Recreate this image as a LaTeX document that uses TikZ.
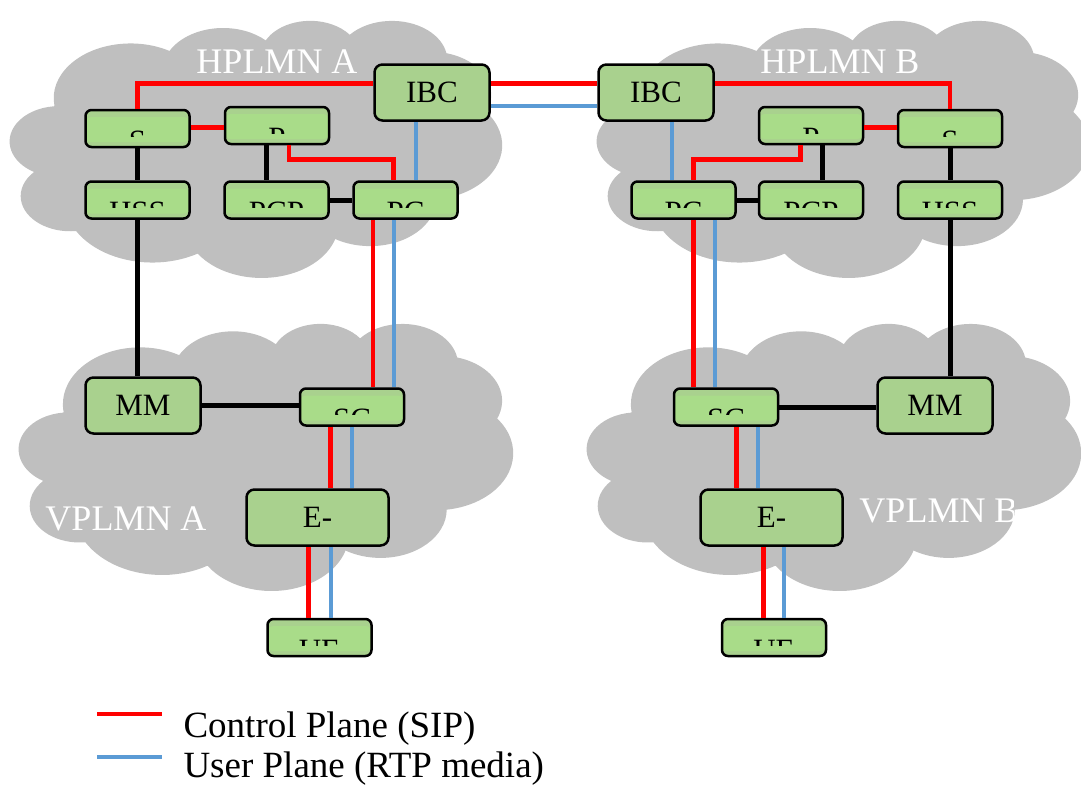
\documentclass[tikz,border=0pt]{standalone}
\usepackage{fontspec}
\setmainfont{Liberation Serif}

\definecolor{cloudgray}{HTML}{BFBFBF}
\definecolor{boxgreen}{HTML}{A9D18E}
\definecolor{boxlight}{HTML}{A9DC89}
\definecolor{sipred}{HTML}{FF0000}
\definecolor{rtpblue}{HTML}{5B9BD5}

\newcommand\boxfont{\fontsize{31}{36}\selectfont}

% one lobe of the cloud, visual angles turned into ellipse angles
\newcommand\cldarc[4]{arc[start angle={atan2(#1*sin(#3),#2*cos(#3))},
  delta angle={mod(atan2(#1*sin(#3+#4),#2*cos(#3+#4))-atan2(#1*sin(#3),#2*cos(#3))+720,360)},
  x radius=#1, y radius=#2]}

% cloud with top left corner (#1,#2), width #3, height #4
\newcommand\netcloud[4]{%
  \pgfmathsetmacro\cldw{#3/43.2}\pgfmathsetmacro\cldh{#4/43.2}%
  \fill[cloudgray, shift={(#1,#2)}, x=\cldw pt, y=-\cldh pt] (3.9,14.37)
    \cldarc{6.753}{9.190}{-190.4875}{123.7805}
    \cldarc{5.333}{7.267}{-144.1024}{89.9452}
    \cldarc{4.365}{5.945}{-145.8079}{99.7230}
    \cldarc{4.857}{6.595}{-130.9861}{117.2417}
    \cldarc{5.333}{7.273}{-78.7089}{109.0269}
    \cldarc{6.775}{9.220}{-46.2673}{130.2690}
    \cldarc{5.785}{7.867}{0.6250}{114.0333}
    \cldarc{6.752}{9.215}{22.4516}{115.1726}
    \cldarc{7.720}{10.543}{66.2426}{75.7110}
    \cldarc{4.360}{5.918}{-274.9421}{146.7356}
    \cldarc{4.345}{5.945}{-246.8285}{152.5189}
    -- cycle;}

\begin{document}
\begin{tikzpicture}[
      x=1pt, y=-1pt,
      box/.style={draw, line width=2.5pt, fill=boxgreen, rounded corners=8pt,
        inner sep=0pt, font=\boxfont},
      bigbox/.style={box, minimum width=115pt, minimum height=56pt},
      ebox/.style={box, minimum width=142pt, minimum height=56pt},
      cutlabel/.style={anchor=north, inner sep=0pt, minimum width=0pt, minimum height=0pt,
        draw=none, fill=none, path picture={}, text=black, font=\boxfont},
      cutbox/.style={box, rounded corners=6pt, minimum width=104pt, minimum height=37pt,
        path picture={
          \fill[boxlight, draw=none] ([yshift=-7pt]path picture bounding box.north west)
            rectangle ([yshift=5pt]path picture bounding box.south east);
          \clip (path picture bounding box.north west)
            rectangle ([yshift=-26pt]path picture bounding box.north east);
          \node[cutlabel] at ([yshift=-19.5pt]path picture bounding box.north) {#1};
        }},
      sip/.style={sipred, line width=4.5pt},
      rtp/.style={rtpblue, line width=4pt},
      link/.style={black, line width=5pt},
      netname/.style={anchor=base, text=white, font=\fontsize{36}{40}\selectfont},
      legendtext/.style={anchor=base west, font=\fontsize{37}{42}\selectfont},
  ]
    \useasboundingbox (0,0) rectangle (1081,785);

    % networks
    \netcloud{10}{20}{492}{257}
    \netcloud{597}{20}{492}{257}
    \netcloud{19}{323}{494}{267}
    \netcloud{587}{323}{494}{267}

    \node[netname] (hA) at (277,73) {HPLMN A};
    \node[netname] (hB) at (840,73) {HPLMN B};
    \node[netname] (vA) at (126,530) {VPLMN A};
    \begin{scope}
      \clip (0,0) rectangle (1013,785);
      \node[netname] (vB) at (939,522) {VPLMN B};
    \end{scope}

    % home network A
    \node[bigbox] (ibcA) at (432,92.5) {IBC};
    \node[cutbox=S] (sA) at (137.5,128.5) {};
    \node[cutbox=P] (pA) at (277,125.5) {};
    \node[cutbox=HSS] (hssA) at (137.5,200) {};
    \node[cutbox=PCP] (pcpA) at (276.5,200) {};
    \node[cutbox=PC] (pcA) at (405.5,200) {};

    % home network B
    \node[bigbox] (ibcB) at (656,92.5) {IBC};
    \node[cutbox=P] (pB) at (811,125.5) {};
    \node[cutbox=S] (sB) at (950,128.5) {};
    \node[cutbox=PC] (pcB) at (683.5,200) {};
    \node[cutbox=PCP] (pcpB) at (811,200) {};
    \node[cutbox=HSS] (hssB) at (950,200) {};

    % visited network A
    \node[bigbox] (mmA) at (143,405.5) {MM};
    \node[cutbox=SC] (scA) at (352,407) {};
    \node[ebox] (eA) at (317.5,517.5) {E-};
    \node[cutbox=UE] (ueA) at (319.5,637.5) {};

    % visited network B
    \node[cutbox=SC] (scB) at (726,407) {};
    \node[bigbox] (mmB) at (935,405.5) {MM};
    \node[ebox] (eB) at (771.5,517.5) {E-};
    \node[cutbox=UE] (ueB) at (774,637.5) {};

    % between the home networks
    \draw[sip] ([yshift=9pt]ibcA.east) -- ([yshift=9pt]ibcB.west);
    \draw[rtp] ([yshift=-13.5pt]ibcA.east) -- ([yshift=-13.5pt]ibcB.west);

    % side A
    \draw[sip] (sA.north) |- ([yshift=9pt]ibcA.west);
    \draw[sip] ([yshift=1pt]sA.east) -- ([yshift=1pt]sA.east -| pA.west);
    \draw[sip] ([xshift=12pt]pA.south) -- ++(0,14) -| ([xshift=-12pt]pcA.north);
    \draw[rtp] ([xshift=-16pt]ibcA.south) -- ([xshift=-16pt]ibcA.south |- pcA.north);
    \draw[link] (sA.south) -- (hssA.north);
    \draw[link] ([xshift=-11pt]pA.south) -- ([xshift=-11pt]pA.south |- pcpA.north);
    \draw[link] (pcpA.east) -- (pcA.west);
    \draw[link] (hssA.south) -- (hssA.south |- mmA.north);
    \draw[sip] ([xshift=-32.5pt]pcA.south) -- ([xshift=-32.5pt]pcA.south |- scA.north);
    \draw[rtp] ([xshift=-11.5pt]pcA.south) -- ([xshift=-11.5pt]pcA.south |- scA.north);
    \draw[link] (mmA.east) -- (mmA.east -| scA.west);
    \draw[sip] ([xshift=-21.5pt]scA.south) -- ([xshift=-21.5pt]scA.south |- eA.north);
    \draw[rtp] (scA.south) -- (scA.south |- eA.north);
    \draw[sip] ([xshift=-9pt]eA.south) -- ([xshift=-9pt]eA.south |- ueA.north);
    \draw[rtp] ([xshift=13pt]eA.south) -- ([xshift=13pt]eA.south |- ueA.north);

    % side B
    \draw[sip] ([yshift=9pt]ibcB.east) -| (sB.north);
    \draw[sip] ([yshift=1pt]sB.west) -- ([yshift=1pt]sB.west -| pB.east);
    \draw[sip] ([xshift=-10.7pt]pB.south) -- ++(0,14) -| ([xshift=10pt]pcB.north);
    \draw[rtp] ([xshift=16pt]ibcB.south) -- ([xshift=16pt]ibcB.south |- pcB.north);
    \draw[link] ([xshift=11pt]pB.south) -- ([xshift=11pt]pB.south |- pcpB.north);
    \draw[link] (pcB.east) -- (pcpB.west);
    \draw[link] (sB.south) -- (hssB.north);
    \draw[link] (hssB.south) -- (hssB.south |- mmB.north);
    \draw[sip] ([xshift=10pt]pcB.south) -- ([xshift=10pt]pcB.south |- scB.north);
    \draw[rtp] ([xshift=31.3pt]pcB.south) -- ([xshift=31.3pt]pcB.south |- scB.north);
    \draw[link] (scB.east) -- (scB.east -| mmB.west);
    \draw[sip] ([xshift=10.7pt]scB.south) -- ([xshift=10.7pt]scB.south |- eB.north);
    \draw[rtp] ([xshift=31.7pt]scB.south) -- ([xshift=31.7pt]scB.south |- eB.north);
    \draw[sip] ([xshift=-8.2pt]eB.south) -- ([xshift=-8.2pt]eB.south |- ueB.north);
    \draw[rtp] ([xshift=12.8pt]eB.south) -- ([xshift=12.8pt]eB.south |- ueB.north);

    % legend
    \coordinate (sipL) at (97,714);
    \coordinate (sipR) at (162,714);
    \coordinate (rtpL) at (97,757);
    \coordinate (rtpR) at (162,757);
    \draw[sip] (sipL) -- (sipR);
    \draw[rtp, line width=4.5pt] (rtpL) -- (rtpR);
    \node[legendtext] (sipTxt) at (180,737) {Control Plane (SIP)};
    \node[legendtext] (rtpTxt) at (180,777) {User Plane (RTP media)};
\end{tikzpicture}
\end{document}
